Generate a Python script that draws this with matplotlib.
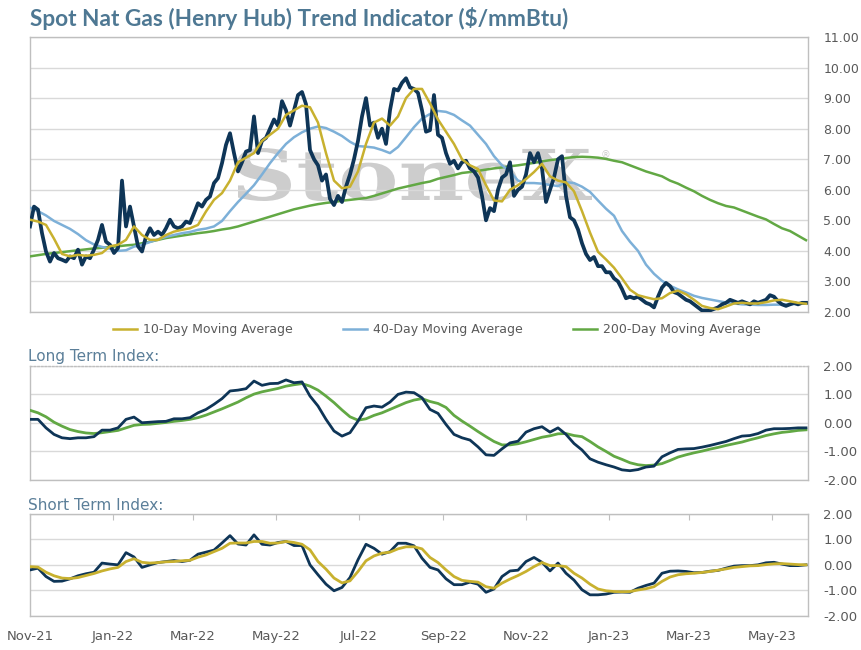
import numpy as np
import pandas as pd
import matplotlib
matplotlib.use('Agg')
import matplotlib.pyplot as plt
import matplotlib.dates as mdates
from matplotlib.ticker import MultipleLocator, FormatStrFormatter
from matplotlib.textpath import TextPath
from matplotlib.patches import PathPatch
from matplotlib.font_manager import FontProperties
from matplotlib.transforms import Affine2D

# sampled series, evenly spaced from first to last date
START = '2021-11-01'
END = '2023-05-26'

spot = [4.80, 5.45, 5.35, 4.58, 3.98, 3.65, 3.93, 3.76, 3.71, 3.65,
        3.82, 3.76, 4.04, 3.55, 3.82, 3.76, 4.04, 4.36, 4.85, 4.30,
        4.20, 3.93, 4.09, 6.30, 4.80, 5.45, 4.80, 4.15, 3.98, 4.47,
        4.74, 4.52, 4.63, 4.52, 4.74, 5.02, 4.80, 4.74, 4.80, 4.96,
        4.91, 5.23, 5.56, 5.45, 5.67, 5.78, 6.22, 6.38, 6.87, 7.47,
        7.85, 7.20, 6.60, 6.90, 7.25, 7.30, 8.40, 7.20, 7.60, 7.70,
        8.00, 8.30, 8.10, 8.90, 8.60, 8.10, 8.60, 9.10, 9.20, 8.80,
        7.30, 7.00, 6.80, 6.30, 6.50, 5.70, 5.50, 5.80, 5.60, 6.10,
        6.50, 7.00, 7.60, 8.40, 9.00, 8.10, 8.20, 7.70, 8.00, 7.50,
        8.60, 9.30, 9.25, 9.50, 9.65, 9.35, 9.30,
        9.17, 8.60, 7.90, 7.95, 9.10, 7.80, 7.70, 7.20, 6.85, 6.95,
        6.70, 6.90, 6.95, 6.70, 6.60, 6.40, 5.80, 5.00, 5.40, 5.30,
        6.00, 6.40, 6.50, 6.90, 5.80, 6.00, 6.10, 6.50, 7.20, 6.90,
        7.20, 6.70, 5.60, 6.00, 6.40, 7.00, 7.10, 5.80, 5.10, 5.00,
        4.70, 4.25, 3.90, 3.70, 3.80, 3.50, 3.50, 3.30, 3.30, 3.10,
        3.00, 2.75, 2.45, 2.50, 2.45, 2.50, 2.40, 2.30, 2.25, 2.15,
        2.50, 2.80, 2.95, 2.85, 2.65, 2.60, 2.50, 2.40, 2.35, 2.25,
        2.15, 2.05, 2.05, 2.05, 2.10, 2.15, 2.25, 2.30, 2.40, 2.35,
        2.30, 2.35, 2.30, 2.25, 2.35, 2.30, 2.35, 2.40, 2.55, 2.50,
        2.35, 2.25, 2.20, 2.25, 2.30, 2.25, 2.30, 2.30]

ma10 = [5.02, 4.96, 4.85, 4.40, 3.90, 3.82, 3.87, 3.84, 3.87, 3.93,
        4.15, 4.20, 4.36, 4.80, 4.52, 4.36, 4.36, 4.52, 4.63, 4.69,
        4.74, 4.85, 5.29, 5.67, 5.89, 6.30, 6.90, 7.05, 7.20, 7.60,
        7.80, 8.00, 8.45, 8.60, 8.75, 8.70, 8.20, 7.20, 6.30, 6.05,
        6.10, 6.60, 7.50, 8.20, 8.33, 8.10, 8.40, 9.00, 9.30, 9.30,
        8.83, 8.30, 7.90, 7.50, 7.00, 6.80, 6.68, 6.15, 5.65, 5.62,
        6.00, 6.15, 6.35, 6.58, 6.85, 6.44, 6.30, 6.24, 5.95, 5.30,
        4.60, 3.97, 3.72, 3.45, 3.10, 2.73, 2.55, 2.48, 2.42, 2.45,
        2.62, 2.70, 2.58, 2.40, 2.20, 2.13, 2.09, 2.18, 2.28, 2.30,
        2.28, 2.28, 2.32, 2.38, 2.40, 2.35, 2.30, 2.27]

ma40 = [5.42, 5.30, 5.16, 4.98, 4.85, 4.72, 4.55, 4.35, 4.21, 4.13,
        4.07, 4.00, 4.02, 4.14, 4.20, 4.29, 4.38, 4.46, 4.52, 4.58,
        4.62, 4.69, 4.73, 4.80, 4.98, 5.30, 5.60, 5.87, 6.15, 6.50,
        6.87, 7.20, 7.50, 7.72, 7.88, 8.00, 8.07, 8.02, 7.90, 7.76,
        7.57, 7.43, 7.41, 7.38, 7.30, 7.20, 7.40, 7.72, 8.05, 8.33,
        8.48, 8.58, 8.55, 8.45, 8.27, 8.10, 7.80, 7.50, 7.10, 6.80,
        6.60, 6.30, 6.22, 6.22, 6.20, 6.16, 6.12, 6.25, 6.22, 6.10,
        5.93, 5.65, 5.38, 5.15, 4.65, 4.30, 4.00, 3.55, 3.25, 3.02,
        2.86, 2.74, 2.64, 2.53, 2.46, 2.41, 2.36, 2.31, 2.28, 2.25,
        2.24, 2.23, 2.23, 2.24, 2.24, 2.25, 2.26, 2.30]

ma200 = [3.82, 3.86, 3.90, 3.93, 3.96, 3.99, 4.02, 4.05, 4.08, 4.10,
         4.13, 4.15, 4.18, 4.20, 4.25, 4.30, 4.36, 4.42, 4.46, 4.50,
         4.54, 4.58, 4.61, 4.65, 4.70, 4.74, 4.80, 4.88, 4.96, 5.04,
         5.12, 5.20, 5.28, 5.36, 5.42, 5.48, 5.53, 5.57, 5.60, 5.64,
         5.67, 5.70, 5.73, 5.80, 5.88, 5.96, 6.04, 6.10, 6.16, 6.22,
         6.27, 6.36, 6.42, 6.48, 6.55, 6.58, 6.62, 6.66, 6.70, 6.73,
         6.77, 6.80, 6.84, 6.88, 6.93, 6.97, 7.00, 7.04, 7.07, 7.08,
         7.07, 7.05, 7.01, 6.95, 6.90, 6.80, 6.70, 6.60, 6.52, 6.44,
         6.30, 6.20, 6.07, 5.95, 5.80, 5.67, 5.56, 5.47, 5.42, 5.32,
         5.22, 5.12, 5.03, 4.88, 4.74, 4.65, 4.50, 4.35]

long_idx = [0.12, 0.12, -0.18, -0.41, -0.53, -0.56, -0.53, -0.53, -0.49, -0.26,
            -0.26, -0.18, 0.12, 0.20, 0.00, 0.02, 0.04, 0.05, 0.14, 0.14,
            0.18, 0.35, 0.47, 0.65, 0.85, 1.12, 1.15, 1.20, 1.47, 1.32,
            1.38, 1.39, 1.51, 1.41, 1.44, 0.94, 0.59, 0.12, -0.29, -0.47,
            -0.35, 0.06, 0.53, 0.59, 0.55, 0.73, 1.00, 1.08, 1.06, 0.88,
            0.47, 0.33, -0.06, -0.41, -0.53, -0.61, -0.85, -1.13, -1.15, -0.92,
            -0.71, -0.65, -0.33, -0.21, -0.14, -0.33, -0.18, -0.41, -0.73, -0.96,
            -1.27, -1.39, -1.48, -1.56, -1.66, -1.69, -1.65, -1.56, -1.53, -1.20,
            -1.06, -0.94, -0.92, -0.91, -0.86, -0.80, -0.73, -0.66, -0.56, -0.47,
            -0.45, -0.38, -0.26, -0.21, -0.21, -0.20, -0.18, -0.18]

long_sig = [0.44, 0.35, 0.21, 0.02, -0.12, -0.24, -0.31, -0.36, -0.38, -0.35,
            -0.31, -0.27, -0.18, -0.09, -0.06, -0.05, -0.02, 0.01, 0.05, 0.08,
            0.12, 0.18, 0.27, 0.38, 0.49, 0.61, 0.73, 0.88, 1.01, 1.09,
            1.15, 1.21, 1.29, 1.34, 1.38, 1.29, 1.15, 0.94, 0.71, 0.45,
            0.21, 0.09, 0.14, 0.26, 0.35, 0.47, 0.59, 0.71, 0.80, 0.85,
            0.75, 0.68, 0.54, 0.26, 0.06, -0.12, -0.31, -0.49, -0.66, -0.78,
            -0.78, -0.74, -0.67, -0.59, -0.51, -0.46, -0.39, -0.38, -0.45, -0.49,
            -0.66, -0.85, -1.01, -1.18, -1.29, -1.41, -1.48, -1.51, -1.49, -1.44,
            -1.33, -1.21, -1.13, -1.06, -1.00, -0.93, -0.87, -0.80, -0.74, -0.68,
            -0.60, -0.53, -0.45, -0.39, -0.34, -0.31, -0.27, -0.25]

short_idx = [-0.20, -0.13, -0.46, -0.65, -0.64, -0.55, -0.43, -0.35, -0.29, 0.07,
             0.03, 0.00, 0.48, 0.31, -0.10, 0.00, 0.09, 0.13, 0.17, 0.13,
             0.18, 0.42, 0.50, 0.58, 0.86, 1.15, 0.82, 0.78, 1.18, 0.81,
             0.78, 0.88, 0.92, 0.76, 0.76, 0.00, -0.39, -0.76, -1.02, -0.89,
             -0.50, 0.20, 0.81, 0.65, 0.42, 0.52, 0.85, 0.85, 0.75, 0.26,
             -0.10, -0.20, -0.55, -0.78, -0.78, -0.68, -0.76, -1.08, -0.95, -0.46,
             -0.24, -0.21, 0.13, 0.29, 0.10, -0.24, 0.07, -0.33, -0.60, -0.98,
             -1.18, -1.18, -1.15, -1.08, -1.07, -1.08, -0.92, -0.81, -0.72, -0.33,
             -0.25, -0.24, -0.26, -0.31, -0.30, -0.25, -0.22, -0.13, -0.05, -0.03,
             -0.03, 0.00, 0.08, 0.10, 0.03, -0.03, -0.03, 0.00]

short_sig = [-0.07, -0.09, -0.29, -0.43, -0.52, -0.54, -0.50, -0.42, -0.34, -0.24,
             -0.16, -0.10, 0.13, 0.24, 0.10, 0.07, 0.09, 0.12, 0.13, 0.16,
             0.18, 0.30, 0.39, 0.52, 0.65, 0.85, 0.86, 0.86, 0.92, 0.92,
             0.85, 0.86, 0.92, 0.88, 0.81, 0.59, 0.13, -0.17, -0.52, -0.71,
             -0.63, -0.26, 0.16, 0.35, 0.46, 0.50, 0.63, 0.71, 0.71, 0.63,
             0.29, 0.09, -0.20, -0.46, -0.61, -0.65, -0.68, -0.86, -0.92, -0.72,
             -0.56, -0.42, -0.26, -0.07, 0.09, -0.03, -0.03, -0.07, -0.33, -0.52,
             -0.76, -0.95, -1.02, -1.05, -1.06, -1.05, -0.99, -0.94, -0.86, -0.65,
             -0.48, -0.39, -0.35, -0.33, -0.30, -0.26, -0.21, -0.16, -0.10, -0.07,
             -0.04, -0.03, 0.01, 0.04, 0.05, 0.03, 0.01, 0.00]

NAVY = '#0E3557'
GOLD = '#C8B12F'
BLUE = '#7DB0D8'
GREEN = '#62A844'
GRID = '#D9D9D9'
SPINE = '#BFBFBF'
TICK = '#595959'
TITLE = '#4E7893'
SUB = '#5B7F99'
MARK = '#CDCDCD'


def dates_for(vals):
    return pd.date_range(START, END, periods=len(vals))


def style_axis(ax, lo, hi, size):
    ax.set_xlim(pd.Timestamp('2021-11-01'), pd.Timestamp('2023-05-27 12:00'))
    ax.set_ylim(lo, hi)
    ax.yaxis.set_major_locator(MultipleLocator(1))
    ax.yaxis.set_major_formatter(FormatStrFormatter('%.2f'))
    ax.yaxis.tick_right()
    ax.tick_params(axis='y', length=0, pad=11, labelcolor=TICK, labelsize=size)
    ax.grid(axis='y', color=GRID, lw=1)
    ax.set_axisbelow(True)
    for s in ax.spines.values():
        s.set_color(SPINE)
        s.set_linewidth(1)


def watermark(fig, text, x0, x1, y_base, cap):
    # stretch a serif text path to the box the logo takes (pixel coords)
    prop = FontProperties(family='DejaVu Serif', weight='bold')
    tp = TextPath((0, 0), text, size=1, prop=prop)
    ext = tp.get_extents()
    cap_h = TextPath((0, 0), 'S', size=1, prop=prop).get_extents().y1
    sx = (x1 - x0) / ext.width
    sy = cap / cap_h
    tr = Affine2D().scale(sx, sy).translate(x0 - ext.x0 * sx, y_base)
    patch = PathPatch(tp, transform=tr, facecolor=MARK, edgecolor='none', zorder=-1)
    fig.patches.append(patch)
    patch.set_figure(fig)


fig = plt.figure(figsize=(8.62, 6.5), dpi=100)
ax1 = fig.add_axes([0.0348, 0.5200, 0.9026, 0.4231])
ax2 = fig.add_axes([0.0348, 0.2623, 0.9026, 0.1746])
ax3 = fig.add_axes([0.0348, 0.0528, 0.9026, 0.1564])
ax1.patch.set_alpha(0)

watermark(fig, 'StoneX', 237, 592, 650 - 200, 52)
fig.text(605 / 862, 1 - 155 / 650, '\u00ae', ha='center', va='center',
         fontsize=7, color=MARK, zorder=-1)

# price panel
ax1.plot(dates_for(ma200), ma200, color=GREEN, lw=1.8, label='200-Day Moving Average', zorder=3)
ax1.plot(dates_for(ma40), ma40, color=BLUE, lw=1.8, label='40-Day Moving Average', zorder=3)
ax1.plot(dates_for(spot), spot, color=NAVY, lw=2.7, zorder=4)
ax1.plot(dates_for(ma10), ma10, color=GOLD, lw=1.8, label='10-Day Moving Average', zorder=5)
style_axis(ax1, 2, 11, 9)
ax1.set_xticks([])

handles, labels = ax1.get_legend_handles_labels()
order = [2, 1, 0]
fig.legend([handles[i] for i in order], [labels[i] for i in order],
           loc='center', bbox_to_anchor=(0.507, 1 - 330 / 650), ncol=3, frameon=False,
           handlelength=1.9, columnspacing=4.0, handletextpad=0.5,
           prop={'family': 'DejaVu Sans', 'size': 9}, labelcolor=TICK)

# long term panel
ax2.plot(dates_for(long_sig), long_sig, color=GREEN, lw=2.0, zorder=3)
ax2.plot(dates_for(long_idx), long_idx, color=NAVY, lw=2.0, zorder=4)
style_axis(ax2, -2, 2, 9.5)
ax2.spines['top'].set_linestyle(':')
ax2.set_xticks([])

# short term panel
ax3.plot(dates_for(short_idx), short_idx, color=NAVY, lw=2.0, zorder=3)
ax3.plot(dates_for(short_sig), short_sig, color=GOLD, lw=2.0, zorder=4)
style_axis(ax3, -2, 2, 9.5)
ax3.xaxis.set_major_locator(mdates.MonthLocator(bymonth=[1, 3, 5, 7, 9, 11]))
ax3.xaxis.set_major_formatter(mdates.DateFormatter('%b-%y'))
ax3.tick_params(axis='x', which='both', bottom=False, top=True, direction='in',
                length=4, color=SPINE, labelbottom=True, labeltop=False,
                labelcolor=TICK, labelsize=9.5, pad=10)

fig.text(30 / 862, 1 - 18 / 650, 'Spot Nat Gas (Henry Hub) Trend Indicator ($/mmBtu)',
         ha='left', va='center', family='Lato', weight='bold', fontsize=16.3, color=TITLE)
fig.text(28 / 862, 1 - 357 / 650, 'Long Term Index:', ha='left', va='center',
         fontsize=11, color=SUB)
fig.text(28 / 862, 1 - 505 / 650, 'Short Term Index:', ha='left', va='center',
         fontsize=11, color=SUB)

fig.savefig('out.png', dpi=100)
